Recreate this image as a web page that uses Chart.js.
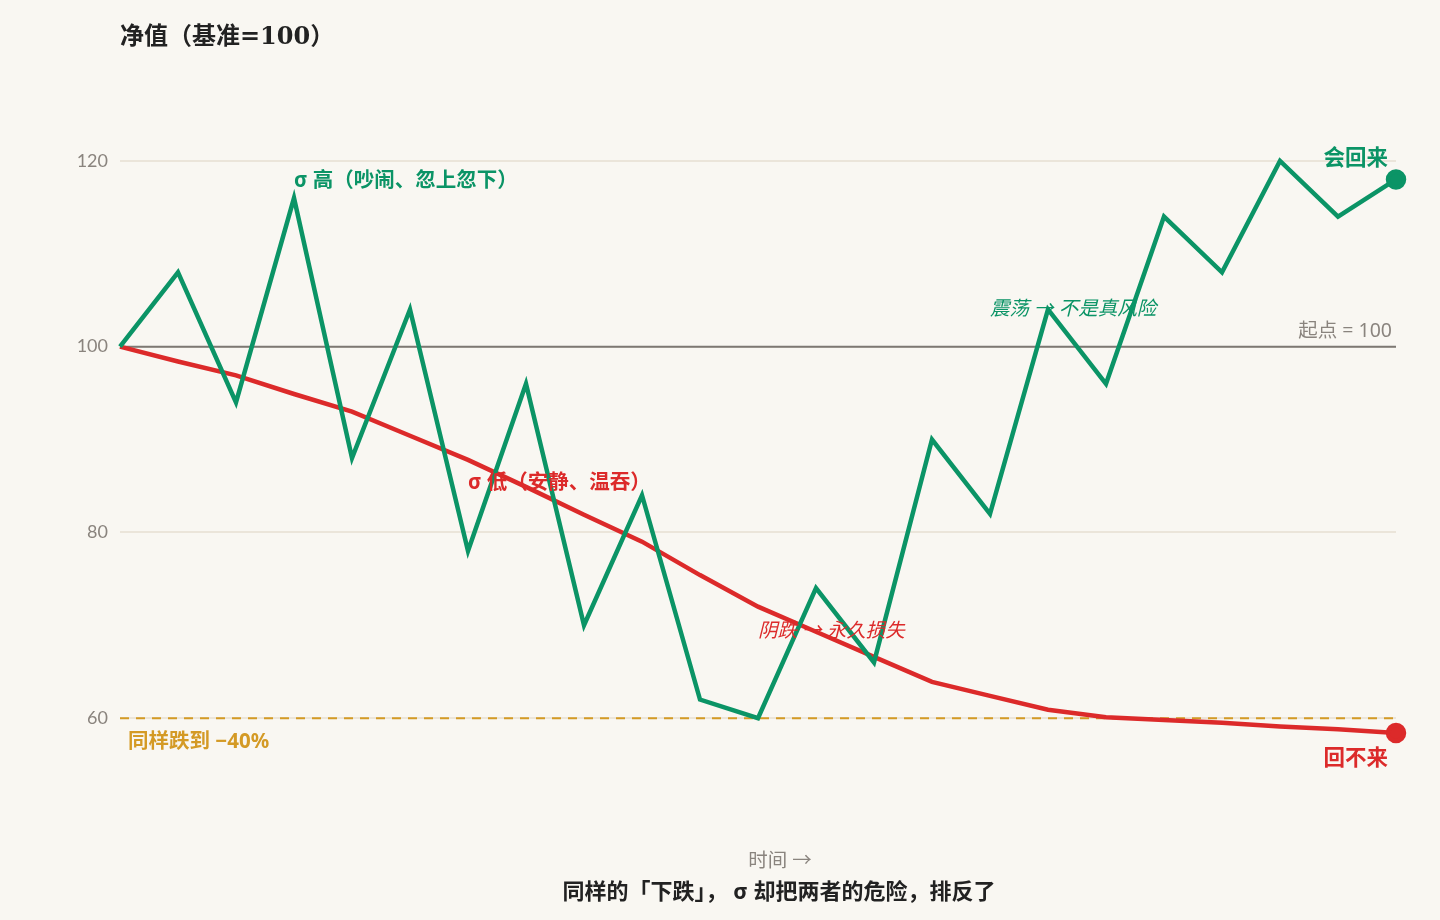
<!DOCTYPE html>
<html>
<head>
<meta charset="utf-8">
<script src="https://cdn.jsdelivr.net/npm/chart.js@4.4.1/dist/chart.umd.min.js"></script>
<style>
  html, body { margin: 0; padding: 0; background: #f9f7f2; }
  #wrap { width: 1440px; height: 920px; position: relative; }
</style>
</head>
<body>
<div id="wrap"><canvas id="chart_nav"></canvas></div>
<script>
// time steps (no labels shown on the x axis)
var steps = ['0','1','2','3','4','5','6','7','8','9','10','11','12','13','14','15','16','17','18','19','20','21','22'];
// high sigma: noisy, ends higher
var navHighSigma = [100, 108, 94, 116, 88, 104, 78, 96, 70, 84, 62, 60, 74, 66, 90, 82, 104, 96, 114, 108, 120, 114, 118];
// low sigma: quiet, slides down and stays down
var navLowSigma = [100, 98.4, 96.9, 94.9, 93.0, 90.4, 87.8, 84.9, 81.9, 79.0, 75.4, 72.0, 69.3, 66.6, 63.9, 62.4, 60.9, 60.1, 59.8, 59.5, 59.1, 58.8, 58.4];
var yTicks = [60, 80, 100, 120];
var baseLine = 100;
var floorLine = 60;

var green = '#0b9466';
var red = '#dc2a2a';
var gold = '#d49a25';
var grey = '#8a847e';
var sans = '"Noto Sans", "Noto Sans CJK SC", sans-serif';

var lastIdx = steps.length - 1;

var notes = {
    id: 'notes',
    beforeDatasetsDraw: function (chart) {
        var c = chart.ctx, a = chart.chartArea, y = chart.scales.y;
        c.save();
        // start = 100 line
        c.strokeStyle = '#7d7873';
        c.lineWidth = 2;
        c.beginPath();
        c.moveTo(a.left, y.getPixelForValue(baseLine));
        c.lineTo(a.right, y.getPixelForValue(baseLine));
        c.stroke();
        // same drop line, dashed
        c.strokeStyle = gold;
        c.setLineDash([9, 7]);
        c.beginPath();
        c.moveTo(a.left, y.getPixelForValue(floorLine));
        c.lineTo(a.right, y.getPixelForValue(floorLine));
        c.stroke();
        c.restore();
    },
    afterDraw: function (chart) {
        var c = chart.ctx, a = chart.chartArea, x = chart.scales.x, y = chart.scales.y;
        function txt(s, px, py, font, color, align) {
            c.font = font;
            c.fillStyle = color;
            c.textAlign = align || 'left';
            c.textBaseline = 'middle';
            c.fillText(s, px, py + 2);
        }
        c.save();
        txt('净值（基准=100）', 120, 36, 'bold 24px "DejaVu Serif", "Noto Sans CJK SC", serif', '#222222');

        txt('σ 高（吵闹、忽上忽下）', x.getPixelForValue(3), y.getPixelForValue(118), 'bold 20.5px ' + sans, green);
        txt('σ 低（安静、温吞）', x.getPixelForValue(6), y.getPixelForValue(85.5), 'bold 20.5px ' + sans, red);
        txt('震荡 → 不是真风险', x.getPixelForValue(15), y.getPixelForValue(104.2), 'italic 19.5px ' + sans, green);
        txt('阴跌 → 永久损失', x.getPixelForValue(11), y.getPixelForValue(69.6), 'italic 19.5px ' + sans, red);
        txt('起点 = 100', a.right - 4, y.getPixelForValue(101.8), '19.5px ' + sans, grey, 'right');
        txt('会回来', a.right - 8, y.getPixelForValue(120.4), 'bold 21.5px ' + sans, green, 'right');
        txt('回不来', a.right - 8, y.getPixelForValue(55.8), 'bold 21.5px ' + sans, red, 'right');
        txt('同样跌到 −40%', a.left + 8, y.getPixelForValue(57.6), 'bold 20.5px ' + sans, gold);

        txt('时间 →', 780, 859, '19.5px ' + sans, grey, 'center');
        txt('同样的「下跌」， σ 却把两者的危险，排反了', 779, 891, 'bold 22px ' + sans, '#222222', 'center');
        c.restore();
    }
};

var ctx = document.getElementById('chart_nav').getContext('2d');
var navChart = new Chart(ctx, {
    type: 'line',
    data: {
        labels: steps,
        datasets: [{
            label: 'σ 高',
            data: navHighSigma,
            borderColor: green,
            backgroundColor: green,
            borderWidth: 4.5,
            borderJoinStyle: 'miter',
            tension: 0,
            clip: false,
            pointRadius: function (c) { return c.dataIndex === lastIdx ? 8 : 0; },
            pointHoverRadius: 0
        }, {
            label: 'σ 低',
            data: navLowSigma,
            borderColor: red,
            backgroundColor: red,
            borderWidth: 4.5,
            tension: 0,
            clip: false,
            pointRadius: function (c) { return c.dataIndex === lastIdx ? 8 : 0; },
            pointHoverRadius: 0
        }]
    },
    options: {
        responsive: true,
        maintainAspectRatio: false,
        animation: false,
        layout: { padding: { top: 68, bottom: 109, right: 44, left: 0 } },
        plugins: {
            legend: { display: false },
            tooltip: { enabled: false }
        },
        scales: {
            x: { display: false },
            y: {
                min: 50,
                max: 130,
                afterFit: function (s) { s.width = 120; },
                afterBuildTicks: function (s) {
                    s.ticks = yTicks.map(function (v) { return { value: v }; });
                },
                border: { display: false },
                grid: { color: '#ebe5da', lineWidth: 2, drawTicks: false },
                ticks: {
                    padding: 12,
                    color: grey,
                    font: { family: 'Lato, "Noto Sans", sans-serif', size: 18 }
                }
            }
        }
    },
    plugins: [notes]
});
</script>
</body>
</html>
